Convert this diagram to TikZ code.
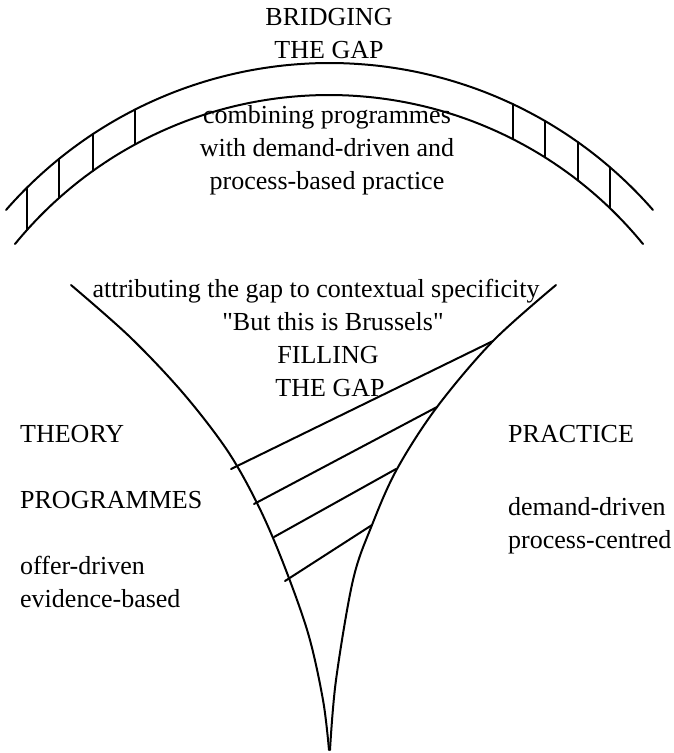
\documentclass[tikz,border=0pt]{standalone}
\usepackage{fontspec}
\setmainfont{Liberation Serif}
\begin{document}
\begin{tikzpicture}[x=1pt,y=-1pt,
  lbl/.style={font=\fontsize{26}{30}\selectfont, inner sep=0pt},
  stroke/.style={line width=2pt, line cap=round, line join=round}]
\useasboundingbox (0,0) rectangle (673,753);
% ---- bridge (arch) ----
\draw[stroke] plot[domain=-138.87:-41.13, samples=120] ({329.5+429.5*cos(\x)},{492.5+429.5*sin(\x)});
\draw[stroke] plot[domain=-140.77:-39.23, samples=120] ({329+405.4*cos(\x)},{500.4+405.4*sin(\x)});
\foreach \tx in {27,59,93,135,513,545,578,610}
  \draw[stroke] (\tx,{492.5-429.5*sqrt(1-((\tx-329.5)/429.5)^2)}) -- (\tx,{500.4-405.4*sqrt(1-((\tx-329)/405.4)^2)});
% ---- funnel ----
\draw[stroke] plot[smooth, tension=0.55] coordinates {(71,285) (130,337) (183,393) (227,450) (257,503) (282,560) (308,633) (323,700) (329,750)};
\draw[stroke] plot[smooth, tension=0.55] coordinates {(556,285) (493,341) (437,407) (397,469) (372,525) (353,580) (336,680) (330,750)};
\coordinate (h1a) at (231,469); \coordinate (h1b) at (493,341);
\coordinate (h2a) at (254,504); \coordinate (h2b) at (437,407);
\coordinate (h3a) at (274,537); \coordinate (h3b) at (396,469);
\coordinate (h4a) at (285,581); \coordinate (h4b) at (372,525);
\draw[stroke] (h1a) -- (h1b);
\draw[stroke] (h2a) -- (h2b);
\draw[stroke] (h3a) -- (h3b);
\draw[stroke] (h4a) -- (h4b);
% ---- texts ----
\node[lbl, anchor=base] (bridging) at (329,25) {BRIDGING};
\node[lbl, anchor=base] (thegap1) at (329,58) {THE GAP};
\node[lbl, anchor=base] (comb1) at (327,123) {combining programmes};
\node[lbl, anchor=base] (comb2) at (327,156) {with demand-driven and};
\node[lbl, anchor=base] (comb3) at (327,189) {process-based practice};
\node[lbl, anchor=base] (attr) at (316,297) {attributing the gap to contextual specificity};
\node[lbl, anchor=base] (bru) at (333,330) {\textquotedbl But this is Brussels\textquotedbl};
\node[lbl, anchor=base] (filling) at (328,363) {FILLING};
\node[lbl, anchor=base] (thegap2) at (330,396) {THE GAP};
\node[lbl, anchor=base west] (theory) at (20,442) {THEORY};
\node[lbl, anchor=base west] (progr) at (20,508) {PROGRAMMES};
\node[lbl, anchor=base west] (offer) at (20,574) {offer-driven};
\node[lbl, anchor=base west] (evid) at (20,607) {evidence-based};
\node[lbl, anchor=base west] (practice) at (508,442) {PRACTICE};
\node[lbl, anchor=base west] (demand) at (508,515) {demand-driven};
\node[lbl, anchor=base west] (process) at (508,548) {process-centred};
\end{tikzpicture}
\end{document}
